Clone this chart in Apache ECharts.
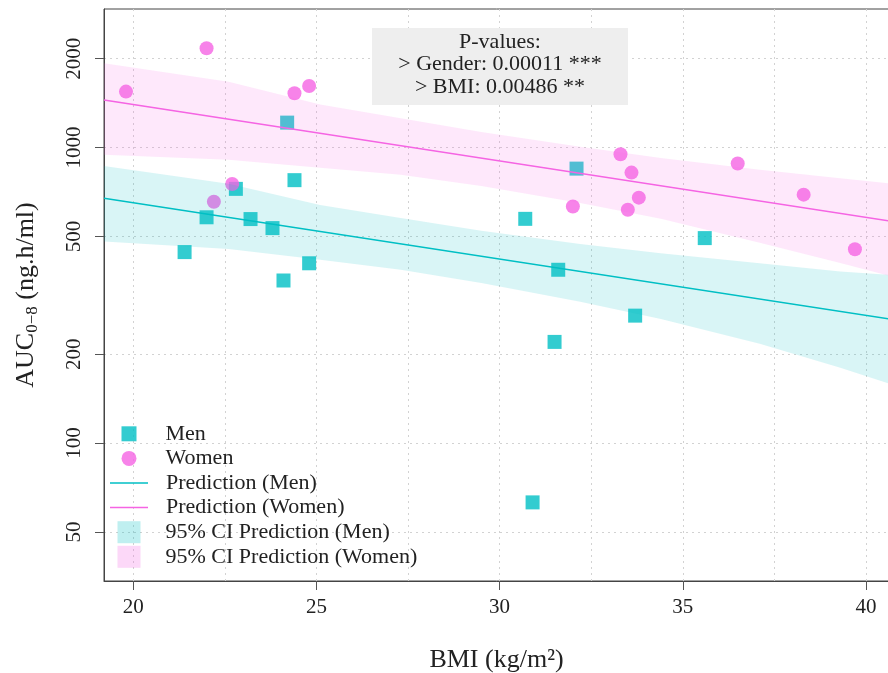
<!DOCTYPE html>
<html>
<head>
<meta charset="UTF-8">
<title>AUC vs BMI</title>
<script src="https://cdn.jsdelivr.net/npm/echarts@6/dist/echarts.min.js"></script>
<style>
	html, body { margin: 0; padding: 0; background: #fff; }
	#main { width: 888px; height: 673px; }
</style>
</head>
<body>
<div id="main"></div>
<script>
// observed points
var menBMI = [21.4, 22.0, 22.8, 23.2, 23.8, 24.1, 24.2, 24.4, 24.8, 30.7, 30.9, 31.5, 31.6, 32.1, 33.7, 35.6];
var menAUC = [443, 581, 725, 573, 534, 355, 1215, 776, 406, 574, 63, 220, 386, 849, 270, 494];
var womenBMI = [19.8, 22.0, 22.2, 22.7, 24.4, 24.8, 32.0, 33.3, 33.5, 33.6, 33.8, 36.5, 38.3, 39.7];
var womenAUC = [1547, 2169, 656, 753, 1528, 1617, 632, 950, 616, 823, 677, 883, 693, 453];

// fitted lines
var predBMI = [19.2, 40.63];
var menPred = [674, 263];
var womenPred = [1450, 565];

// 95% CI bands
var bandBMI = [19.2, 22.6, 25.1, 27.3, 29.5, 32.2, 34.4, 37.1, 39.3, 40.63];
var menLower = [481, 454, 417, 386, 348, 301, 263, 217, 180, 159];
var menUpper = [867, 754, 640, 578, 523, 472, 439, 406, 381, 371];
var womenLower = [945, 909, 854, 809, 742, 650, 574, 476, 407, 368];
var womenUpper = [1930, 1669, 1400, 1256, 1130, 1006, 923, 841, 787, 757];

// axes
var xTicks = [20, 25, 30, 35, 40];
var xGrid = [20, 22.5, 25, 27.5, 30, 32.5, 35, 37.5, 40];
var yTicks = [50, 100, 200, 500, 1000, 2000];
var yMin = 34.14, yMax = 2945;

var font = 'Liberation Serif';
var cyan = '#00BFC4', pink = '#F564E3';
var cyanBand = 'rgba(0,191,196,0.15)', pinkBand = 'rgba(245,100,227,0.15)';

function lg(v) { return Math.log(v) / Math.LN10; }
function pairs(xs, ys) {
	return xs.map(function (x, i) { return [x, lg(ys[i])]; });
}
// one polygon per band, upper edge then lower edge backwards
function band(name, lo, hi, color) {
	return {
		name: name, type: 'custom', z: 3, silent: true,
		itemStyle: { color: color },
		encode: { x: 0, y: [1, 2] },
		data: bandBMI.map(function (x, i) { return [x, lg(lo[i]), lg(hi[i])]; }),
		renderItem: function (params, api) {
			if (params.dataIndex !== 0) return;
			var upper = [], lower = [];
			for (var i = 0; i < bandBMI.length; i++) {
				upper.push(api.coord([bandBMI[i], lg(hi[i])]));
				lower.unshift(api.coord([bandBMI[i], lg(lo[i])]));
			}
			return {
				type: 'polygon',
				shape: { points: upper.concat(lower) },
				style: { fill: color }
			};
		}
	};
}

var gridLine = { show: true, lineStyle: { color: '#d2d2d2', width: 1, type: [2, 4] } };
var legendText = { fontSize: 22, fontFamily: font, color: '#222', lineHeight: 24.6 };
var linePath = 'path://M0,0H38V1.5H0Z';

var myChart = echarts.init(document.getElementById('main'));
var option = {
	animation: false,
	textStyle: { fontFamily: font },
	grid: {
		left: 104, top: 9, right: -1, bottom: 92,
		show: true, borderColor: '#444', borderWidth: 1,
		outerBoundsMode: 'none'
	},
	xAxis: [{
		type: 'value', min: 19.2, max: 40.63,
		axisLine: { show: true, onZero: false, lineStyle: { color: '#444' } },
		axisTick: { show: true, length: 9, customValues: xTicks, lineStyle: { color: '#555' } },
		axisLabel: { customValues: xTicks, fontSize: 21, margin: 16, fontFamily: font, color: '#222' },
		splitLine: { show: false },
		name: 'BMI (kg/m²)', nameLocation: 'middle', nameGap: 66,
		nameTextStyle: { fontSize: 26, fontFamily: font, color: '#222' }
	}, {
		type: 'value', min: 19.2, max: 40.63, position: 'bottom',
		axisLine: { show: false },
		axisTick: { show: false, customValues: xGrid },
		axisLabel: { show: false },
		splitLine: gridLine
	}],
	yAxis: {
		type: 'value', min: lg(yMin), max: lg(yMax),
		axisLine: { show: true, onZero: false, lineStyle: { color: '#444' } },
		axisTick: { show: true, length: 9, customValues: yTicks.map(lg), lineStyle: { color: '#555' } },
		axisLabel: {
			customValues: yTicks.map(lg), rotate: 90, margin: 19,
			fontSize: 21, fontFamily: font, color: '#222',
			formatter: function (v) { return String(Math.round(Math.pow(10, v))); }
		},
		splitLine: gridLine,
		name: '{a|AUC}{s|0−8}{a| (ng.h/ml)}',
		nameLocation: 'middle', nameRotate: 90, nameGap: 63,
		nameTextStyle: {
			rich: {
				a: { fontSize: 26, fontFamily: font, color: '#222', lineHeight: 30 },
				s: { fontSize: 17, fontFamily: font, color: '#222', lineHeight: 14, verticalAlign: 'bottom' }
			}
		}
	},
	legend: [{
		data: ['Men', 'Women'],
		orient: 'vertical', left: 121.5, top: 421.5, padding: 0, itemGap: 0,
		itemWidth: 15, itemHeight: 15, selectedMode: false,
		textStyle: Object.assign({ padding: [0, 0, 0, 24] }, legendText)
	}, {
		data: [
			{ name: 'Prediction (Men)', icon: linePath, itemStyle: { color: cyan, borderWidth: 0 } },
			{ name: 'Prediction (Women)', icon: linePath, itemStyle: { color: pink, borderWidth: 0 } }
		],
		orient: 'vertical', left: 110, top: 470.7, padding: 0, itemGap: 0,
		itemWidth: 38, itemHeight: 14, selectedMode: false,
		textStyle: Object.assign({ padding: [0, 0, 0, 13] }, legendText)
	}, {
		data: [
			{ name: '95% CI Prediction (Men)', icon: 'rect', itemStyle: { color: 'rgba(0,191,196,0.25)', borderWidth: 0 } },
			{ name: '95% CI Prediction (Women)', icon: 'rect', itemStyle: { color: 'rgba(245,100,227,0.25)', borderWidth: 0 } }
		],
		orient: 'vertical', left: 117.5, top: 519.9, padding: 0, itemGap: 0,
		itemWidth: 23, itemHeight: 22, selectedMode: false,
		textStyle: Object.assign({ padding: [0, 0, 0, 20] }, legendText)
	}],
	graphic: [
		{ type: 'rect', shape: { x: 372, y: 28, width: 256, height: 77 }, style: { fill: '#eeeeee' }, z: 10 },
		{ type: 'text', x: 500, y: 42, z: 11, style: { text: 'P-values:', font: '22px "Liberation Serif"', fill: '#222', align: 'center', verticalAlign: 'middle' } },
		{ type: 'text', x: 500, y: 64.5, z: 11, style: { text: '> Gender: 0.00011 ***', font: '22px "Liberation Serif"', fill: '#222', align: 'center', verticalAlign: 'middle' } },
		{ type: 'text', x: 500, y: 87, z: 11, style: { text: '> BMI: 0.00486 **', font: '22px "Liberation Serif"', fill: '#222', align: 'center', verticalAlign: 'middle' } }
	],
	series: [{
		name: 'Men', type: 'scatter', symbol: 'rect', symbolSize: 14, z: 2,
		itemStyle: { color: cyan },
		data: pairs(menBMI, menAUC)
	}, {
		name: 'Women', type: 'scatter', symbol: 'circle', symbolSize: 14, z: 2,
		itemStyle: { color: pink },
		data: pairs(womenBMI, womenAUC)
	},
	band('95% CI Prediction (Men)', menLower, menUpper, cyanBand),
	band('95% CI Prediction (Women)', womenLower, womenUpper, pinkBand),
	{
		name: 'Prediction (Men)', type: 'line', symbol: 'none', z: 4,
		itemStyle: { color: cyan },
		lineStyle: { color: cyan, width: 1.5 },
		data: pairs(predBMI, menPred)
	}, {
		name: 'Prediction (Women)', type: 'line', symbol: 'none', z: 4,
		itemStyle: { color: pink },
		lineStyle: { color: pink, width: 1.5 },
		data: pairs(predBMI, womenPred)
	}]
};
myChart.setOption(option);
</script>
</body>
</html>
